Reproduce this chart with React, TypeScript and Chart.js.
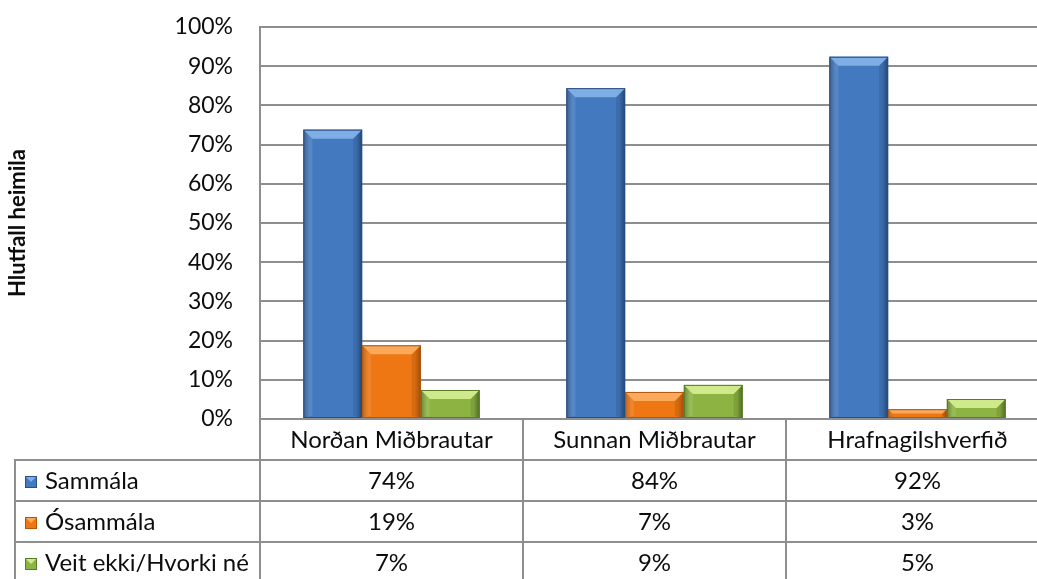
import React, { useEffect, useRef } from "react";
import { Chart, registerables } from "chart.js";

Chart.register(...registerables);

const categories = ["Norðan Miðbrautar", "Sunnan Miðbrautar", "Hrafnagilshverfið"];
const seriesNames = ["Sammála", "Ósammála", "Veit ekki/Hvorki né"];
const sammala = [73.8, 84.4, 92.4];
const osammala = [18.8, 6.9, 2.5];
const veitEkki = [7.4, 8.7, 5.1];
const yAxisTitle = "Hlutfall heimila";

const FONT = "Lato, 'Noto Sans', sans-serif";
const GRID = "#8e8e8e";
const TEXT = "#0d0d0d";

const palettes = [
  { base: "#4279BF", light: "#7FAEE6", dark: "#2A4E80" },
  { base: "#EE7613", light: "#FBAA5C", dark: "#B0570C" },
  { base: "#8DB443", light: "#CFEA8A", dark: "#5A7A26" },
];

const bevelPlugin = {
  id: "bevel",
  afterDatasetsDraw(chart: any) {
    const ctx = chart.ctx;
    chart.data.datasets.forEach((ds: any, di: number) => {
      const meta = chart.getDatasetMeta(di);
      const pal = palettes[di];
      meta.data.forEach((bar: any) => {
        const l = bar.x - bar.width / 2;
        const r = bar.x + bar.width / 2;
        const t = Math.min(bar.y, bar.base);
        const b = Math.max(bar.y, bar.base);
        const h = b - t;
        if (h <= 0) return;
        const d = Math.min(9, h / 2);
        ctx.save();
        const g = ctx.createLinearGradient(l, 0, r, 0);
        g.addColorStop(0, pal.dark);
        g.addColorStop(0.1, pal.base);
        g.addColorStop(0.9, pal.base);
        g.addColorStop(1, pal.dark);
        ctx.fillStyle = g;
        ctx.fillRect(l, t, r - l, h);
        ctx.fillStyle = pal.light;
        ctx.beginPath();
        ctx.moveTo(l, t);
        ctx.lineTo(r, t);
        ctx.lineTo(r - d, t + d);
        ctx.lineTo(l + d, t + d);
        ctx.closePath();
        ctx.fill();
        ctx.fillStyle = "rgba(255,255,255,0.10)";
        ctx.beginPath();
        ctx.moveTo(l, t);
        ctx.lineTo(l + d, t + d);
        ctx.lineTo(l + d, b - 2);
        ctx.lineTo(l, b);
        ctx.closePath();
        ctx.fill();
        ctx.fillStyle = "rgba(0,0,0,0.10)";
        ctx.beginPath();
        ctx.moveTo(r, t);
        ctx.lineTo(r - d, t + d);
        ctx.lineTo(r - d, b - 2);
        ctx.lineTo(r, b);
        ctx.closePath();
        ctx.fill();
        ctx.strokeStyle = pal.dark;
        ctx.lineWidth = 1;
        ctx.strokeRect(l + 0.5, t + 0.5, r - l - 1, h - 1);
        ctx.restore();
      });
    });
  },
};

const tablePlugin = {
  id: "dataTable",
  afterDraw(chart: any) {
    const ctx = chart.ctx;
    const area = chart.chartArea;
    const xs = chart.scales.x;
    const half = (xs.getPixelForValue(1) - xs.getPixelForValue(0)) / 2;
    const top = area.bottom;
    const headerH = 41;
    const rowH = 41;
    const tableLeft = 15;
    const bottom = chart.height;
    const right = area.right;
    const series = [sammala, osammala, veitEkki];

    ctx.save();
    ctx.strokeStyle = GRID;
    ctx.lineWidth = 2;
    const bounds: number[] = [];
    categories.forEach((_, i) => bounds.push(xs.getPixelForValue(i) - half));
    bounds.push(xs.getPixelForValue(categories.length - 1) + half);
    bounds.forEach((bx) => {
      ctx.beginPath();
      ctx.moveTo(Math.round(bx), top);
      ctx.lineTo(Math.round(bx), bottom);
      ctx.stroke();
    });
    ctx.beginPath();
    ctx.moveTo(tableLeft, top + headerH);
    ctx.lineTo(tableLeft, bottom);
    ctx.stroke();
    for (let r = 0; r < series.length; r++) {
      const y = Math.round(top + headerH + r * rowH);
      ctx.beginPath();
      ctx.moveTo(tableLeft - 1, y);
      ctx.lineTo(right, y);
      ctx.stroke();
    }

    ctx.fillStyle = TEXT;
    ctx.textBaseline = "middle";
    ctx.font = `24px ${FONT}`;
    ctx.textAlign = "center";
    categories.forEach((c, i) => {
      ctx.fillText(c, xs.getPixelForValue(i), top + headerH / 2 + 1);
    });

    series.forEach((vals, r) => {
      const cy = top + headerH + r * rowH + rowH / 2 + 1;
      const pal = palettes[r];
      const mx = 25;
      const ms = 12;
      const my = Math.round(cy - ms / 2);
      ctx.fillStyle = pal.base;
      ctx.fillRect(mx, my, ms, ms);
      ctx.fillStyle = pal.light;
      ctx.beginPath();
      ctx.moveTo(mx, my);
      ctx.lineTo(mx + ms, my);
      ctx.lineTo(mx + ms / 2, my + ms / 2);
      ctx.closePath();
      ctx.fill();
      ctx.strokeStyle = pal.dark;
      ctx.lineWidth = 1;
      ctx.strokeRect(mx + 0.5, my + 0.5, ms - 1, ms - 1);

      ctx.fillStyle = TEXT;
      ctx.textAlign = "left";
      ctx.fillText(seriesNames[r], 45, cy);
      ctx.textAlign = "center";
      vals.forEach((v, i) => {
        ctx.fillText(`${Math.round(v)}%`, xs.getPixelForValue(i), cy);
      });
    });
    ctx.restore();
  },
};

export default function App() {
  const ref = useRef<HTMLCanvasElement | null>(null);

  useEffect(() => {
    if (!ref.current) return;
    const chart = new Chart(ref.current, {
      type: "bar",
      data: {
        labels: categories,
        datasets: [sammala, osammala, veitEkki].map((vals, i) => ({
          label: seriesNames[i],
          data: vals,
          backgroundColor: palettes[i].base,
          borderWidth: 0,
          barPercentage: 1,
          categoryPercentage: 0.67,
        })),
      },
      options: {
        animation: false,
        responsive: false,
        maintainAspectRatio: false,
        layout: { padding: { top: 27, right: 1, bottom: 0, left: 0 } },
        plugins: {
          legend: { display: false },
          tooltip: { enabled: false },
        },
        scales: {
          x: {
            grid: { display: false },
            border: { display: true, color: GRID, width: 2 },
            ticks: { display: false },
            afterFit: (s: any) => {
              s.height = 160;
            },
          },
          y: {
            min: 0,
            max: 100,
            ticks: {
              stepSize: 10,
              padding: 27,
              color: TEXT,
              font: { family: FONT, size: 23 },
              callback: (v: any) => `${v}%`,
            },
            grid: { color: GRID, lineWidth: 2, drawTicks: false },
            border: { display: true, color: GRID, width: 2 },
            title: {
              display: true,
              text: yAxisTitle,
              color: TEXT,
              font: { family: FONT, size: 22, weight: "bold" },
              padding: { top: 5, bottom: 4 },
            },
            afterFit: (s: any) => {
              s.width = 260;
              s.paddingTop = 0;
              s.paddingBottom = 0;
            },
          },
        },
      },
      plugins: [bevelPlugin, tablePlugin],
    } as any);
    return () => chart.destroy();
  }, []);

  return (
    <div
      style={{
        position: "fixed",
        left: 0,
        top: 0,
        width: 1037,
        height: 579,
        overflow: "hidden",
        background: "#fff",
      }}
    >
      <canvas ref={ref} width={1050} height={579} style={{ display: "block" }} />
    </div>
  );
}
